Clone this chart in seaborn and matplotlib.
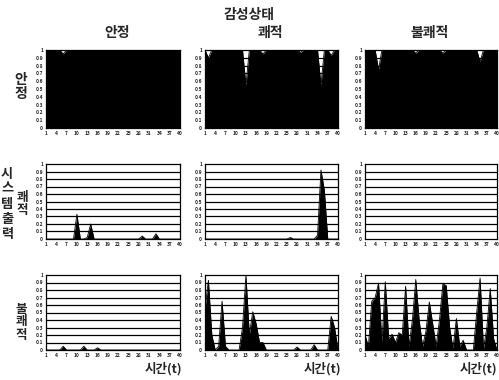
import numpy as np
import pandas as pd
import matplotlib
matplotlib.use("Agg")
import matplotlib.pyplot as plt
import seaborn as sns

# ---- data ----
t = list(range(1, 41))
col_titles = ["안정", "쾌적", "불쾌적"]
row_titles = ["안\n정", "쾌\n적", "불\n쾌\n적"]
x_ticks = [1, 4, 7, 10, 13, 16, 19, 22, 25, 28, 31, 34, 37, 40]
y_ticks = [0, 0.1, 0.2, 0.3, 0.4, 0.5, 0.6, 0.7, 0.8, 0.9, 1]
y_labels = ["0", "0.1", "0.2", "0.3", "0.4", "0.5", "0.6", "0.7", "0.8", "0.9", "1"]

# row 1: output 안정
r1c1 = [1, 1, 1, 1, 1, 0.95, 1, 1, 1, 1, 1, 1, 1, 1, 1, 1, 1, 1, 1, 1,
        1, 1, 1, 1, 1, 1, 1, 1, 1, 1, 1, 1, 1, 1, 1, 1, 1, 1, 1, 1]
r1c2 = [1, 0.9, 1, 1, 1, 1, 1, 1, 1, 1, 1, 1, 0.55, 1, 1, 1, 1, 0.95, 1, 1,
        1, 1, 1, 1, 1, 1, 1, 1, 0.97, 1, 1, 1, 1, 1, 0.55, 1, 1, 0.93, 1, 1]
r1c3 = [1, 1, 1, 1, 0.75, 1, 1, 1, 1, 1, 1, 1, 1, 1, 1, 0.96, 1, 1, 1, 1,
        1, 1, 1, 0.96, 1, 1, 1, 1, 1, 1, 1, 1, 1, 1, 0.85, 1, 1, 1, 1, 1]
# row 2: output 쾌적
r2c1 = [0, 0, 0, 0, 0, 0, 0, 0, 0, 0.33, 0, 0, 0.02, 0.2, 0, 0, 0, 0, 0, 0,
        0, 0, 0, 0, 0, 0, 0, 0, 0.04, 0, 0, 0, 0.07, 0, 0, 0, 0, 0, 0, 0]
r2c2 = [0, 0, 0, 0, 0, 0, 0, 0, 0, 0, 0, 0, 0, 0, 0, 0, 0, 0, 0, 0,
        0, 0, 0, 0, 0, 0.02, 0, 0, 0, 0, 0, 0, 0, 0.05, 0.92, 0.65, 0, 0, 0, 0]
r2c3 = [0] * 40
# row 3: output 불쾌적
r3c1 = [0, 0, 0, 0, 0, 0.05, 0, 0, 0, 0, 0, 0.05, 0, 0, 0, 0.03, 0, 0, 0, 0,
        0, 0, 0, 0, 0, 0, 0, 0, 0, 0, 0, 0, 0, 0, 0, 0, 0, 0, 0, 0]
r3c2 = [0.55, 0.93, 0.2, 0, 0.05, 0.65, 0.05, 0, 0, 0, 0, 0.3, 1.0, 0.2, 0.51, 0.35, 0.1, 0.1, 0, 0,
        0, 0, 0, 0, 0, 0, 0, 0.04, 0, 0, 0, 0, 0.07, 0, 0, 0, 0, 0.45, 0.3, 0]
r3c3 = [0.2, 0.05, 0.65, 0.7, 0.89, 0.1, 0.91, 0.15, 0.21, 0.1, 0.23, 0.2, 0.85, 0.05, 0.4, 0.94, 0.4, 0.05, 0.25, 0.64,
        0.35, 0.05, 0.4, 0.88, 0.86, 0.3, 0.02, 0.42, 0.05, 0.13, 0, 0, 0, 0.5, 0.96, 0.02, 0.3, 0.82, 0.15, 0]

series = [[r1c1, r1c2, r1c3], [r2c1, r2c2, r2c3], [r3c1, r3c2, r3c3]]

sns.set_theme(style="white")
plt.rcParams['font.family'] = ['Noto Sans CJK KR', 'DejaVu Sans']

fig = plt.figure(figsize=(4.99, 3.80), dpi=100)
W, H = 499.0, 380.0
col_px = [(46, 180), (205, 338), (365, 497)]
row_px = [(50, 128), (164, 239), (275, 350)]

for i in range(3):
    for j in range(3):
        l, r = col_px[j]
        tp, bt = row_px[i]
        ax = fig.add_axes([l / W, 1 - bt / H, (r - l) / W, (bt - tp) / H])
        df = pd.DataFrame({"t": t, "v": series[i][j]})
        for yv in y_ticks[1:-1]:
            ax.axhline(yv, color="black", lw=0.9, zorder=1)
        sns.lineplot(data=df, x="t", y="v", ax=ax, color="black", lw=0.6, zorder=3)
        ax.fill_between(df["t"], 0, df["v"], color="black", lw=0, zorder=2)
        ax.set_xlim(1, 40)
        ax.set_ylim(0, 1)
        ax.set_xticks(x_ticks)
        ax.set_xticklabels([str(v) for v in x_ticks], fontsize=3.5, fontweight="bold")
        ax.set_yticks(y_ticks)
        ax.set_yticklabels(y_labels, fontsize=3.5, fontweight="bold")
        ax.tick_params(length=0, pad=2)
        ax.set_xlabel("")
        ax.set_ylabel("")
        for s in ax.spines.values():
            s.set_color("black")
            s.set_linewidth(0.9)

# titles
fig.text(249 / W, 1 - 15 / H, "감성상태", ha="center", va="center", fontsize=10, fontweight="bold")
for cx, txt in zip([117, 270, 430], col_titles):
    fig.text(cx / W, 1 - 33 / H, txt, ha="center", va="center", fontsize=10, fontweight="bold")

# row labels
fig.text(21 / W, 1 - 87 / H, row_titles[0], ha="center", va="center", fontsize=10,
         fontweight="bold", linespacing=1.0)
fig.text(7 / W, 1 - 204 / H, "시\n스\n템\n출\n력", ha="center", va="center", fontsize=9.5,
         fontweight="bold", linespacing=1.1)
fig.text(22 / W, 1 - 204 / H, row_titles[1], ha="center", va="center", fontsize=9,
         fontweight="bold", linespacing=1.0)
fig.text(21 / W, 1 - 322 / H, row_titles[2], ha="center", va="center", fontsize=9,
         fontweight="bold", linespacing=1.0)

# x labels
for cx in [163, 322, 478]:
    fig.text(cx / W, 1 - 369 / H, "시간(t)", ha="center", va="center", fontsize=9,
             fontweight="bold")

fig.savefig("out.png", dpi=100)
